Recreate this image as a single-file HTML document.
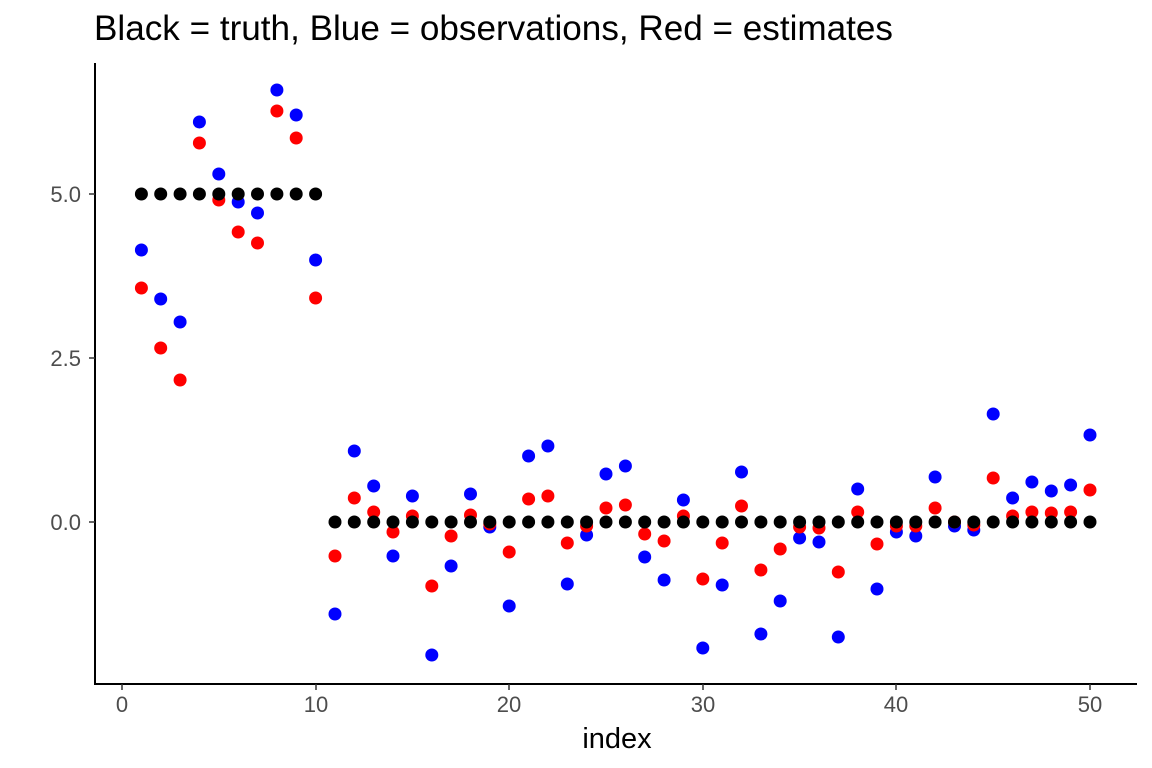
<!DOCTYPE html>
<html><head><meta charset="utf-8"><style>
html,body{margin:0;padding:0;background:#fff;}
svg{display:block;font-family:"Liberation Sans",Arial,sans-serif;}
</style></head><body>
<svg id="s" width="1152" height="768" viewBox="0 0 1152 768" xmlns="http://www.w3.org/2000/svg">
<rect width="1152" height="768" fill="#fff"/>
<text x="94" y="40" font-size="35" fill="#000" textLength="799" lengthAdjust="spacingAndGlyphs">Black = truth, Blue = observations, Red = estimates</text>
<line x1="95" y1="63" x2="95" y2="685" stroke="#000" stroke-width="2"/>
<line x1="94" y1="684" x2="1137" y2="684" stroke="#000" stroke-width="2"/>
<g stroke="#333" stroke-width="1.5">
<line x1="89" y1="194" x2="95" y2="194"/><line x1="89" y1="358" x2="95" y2="358"/><line x1="89" y1="522" x2="95" y2="522"/>
<line x1="122" y1="684" x2="122" y2="690"/><line x1="316" y1="684" x2="316" y2="690"/><line x1="509" y1="684" x2="509" y2="690"/><line x1="703" y1="684" x2="703" y2="690"/><line x1="896" y1="684" x2="896" y2="690"/><line x1="1090" y1="684" x2="1090" y2="690"/>
</g>
<g font-size="22" fill="#4d4d4d" text-anchor="end">
<text x="81" y="202">5.0</text><text x="81" y="366">2.5</text><text x="81" y="530">0.0</text>
</g>
<g font-size="22" fill="#4d4d4d" text-anchor="middle">
<text x="122" y="712">0</text><text x="316" y="712">10</text><text x="509" y="712">20</text><text x="703" y="712">30</text><text x="896" y="712">40</text><text x="1090" y="712">50</text>
</g>
<text x="617" y="748" font-size="29" text-anchor="middle" fill="#000">index</text>
<g id="pts"></g>
</svg>
<script>
var B=[250,299,322,122,174,202,213,90,115,260,614,451,486,556,496,655,566,494,527,606,456,446,584,535,474,466,557,580,500,648,585,472,634,601,538,542,637,489,589,532,536,477,526,530,414,498,482,491,485,435];
var R=[288,348,380,143,200,232,243,111,138,298,556,498,512,532,516,586,536,515,524,552,499,496,543,526,508,505,534,541,516,579,543,506,570,549,527,528,572,512,544,526,526,508,522,525,478,516,512,513,512,490];
var g=document.getElementById('pts'),h='';
function c(x,y,f){h+='<circle cx="'+x.toFixed(1)+'" cy="'+y+'" r="6.5" fill="'+f+'"/>';}
for(var i=1;i<=50;i++){var x=122+19.36*i;c(x,B[i-1],'#0000ff');}
for(var i=1;i<=50;i++){var x=122+19.36*i;c(x,R[i-1],'#ff0000');}
for(var i=1;i<=50;i++){var x=122+19.36*i;c(x,i<=10?194:522,'#000');}
g.innerHTML=h;
</script>
</body></html>
